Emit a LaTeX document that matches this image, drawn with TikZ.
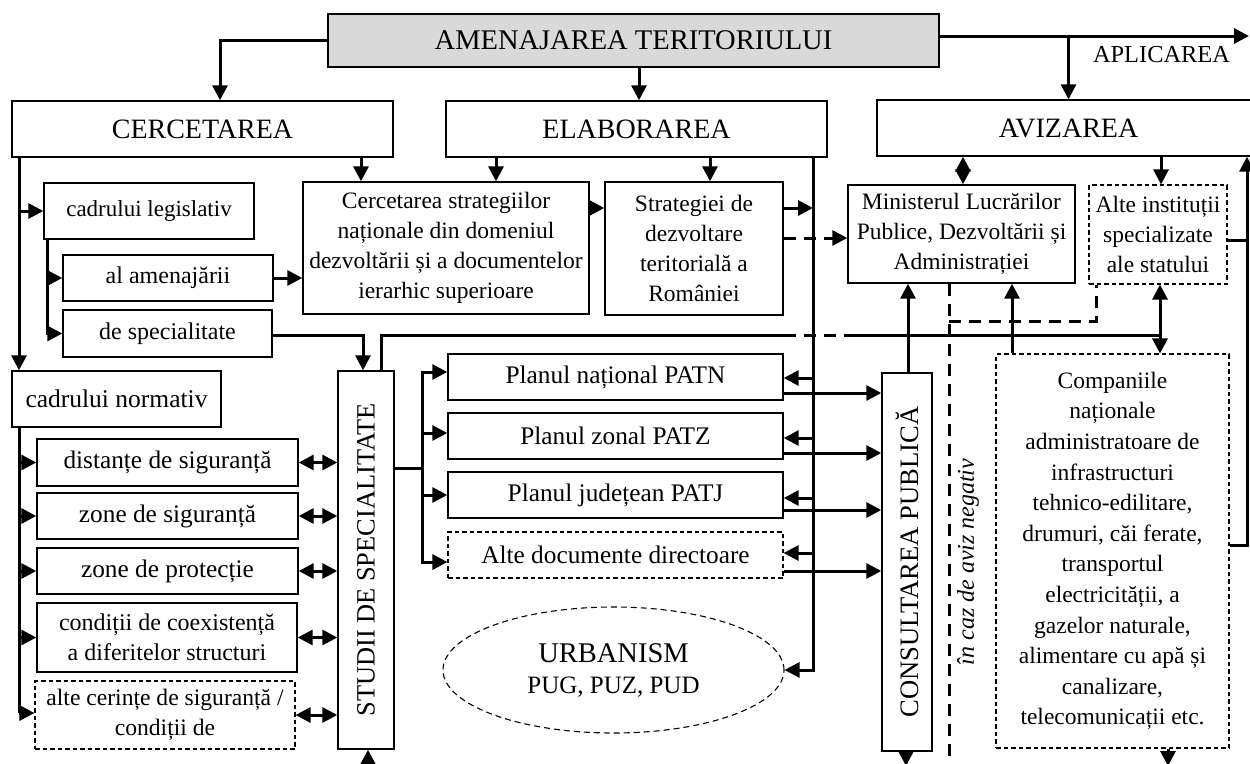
\documentclass[tikz,border=0pt]{standalone}
\usepackage{fontspec}
\setmainfont{Liberation Serif}
\usetikzlibrary{arrows.meta,shapes.geometric,calc}

\definecolor{boxgray}{RGB}{217,217,217}
\newcommand\tsz[2]{\fontsize{#1}{#2}\selectfont}

\tikzset{
  box/.style={draw, line width=1.4pt, inner sep=0pt, align=center},
  dbox/.style={box, line width=1.1pt, dash pattern=on 4.5pt off 3pt},
  conn/.style={line width=3pt},
  arr/.style={conn, ->},
  darr/.style={conn, <->},
  dashconn/.style={conn, dash pattern=on 12pt off 8pt},
  vlabel/.style={rotate=90, inner sep=0pt},
}

\begin{document}
\begin{tikzpicture}[x=1pt, y=1pt, >={Triangle[length=15pt,width=15pt]}]
\useasboundingbox (0,0) rectangle (1250,-763);
\clip (0,0) rectangle (1250,-763);

% main title and the three stages
\node[box, fill=boxgray, minimum width=611pt, minimum height=53pt, font=\tsz{28.5}{30}] (amen) at (633.5,-40.5) {AMENAJAREA TERITORIULUI};
\node[box, minimum width=381pt, minimum height=56pt, font=\tsz{28}{30}] (cerc) at (202.5,-129) {CERCETAREA};
\node[box, minimum width=381pt, minimum height=56pt, font=\tsz{28}{30}] (elab) at (636.5,-129) {ELABORAREA};
\node[box, minimum width=383pt, minimum height=56pt, font=\tsz{28}{30}] (aviz) at (1068.5,-128) {AVIZAREA};
\node[inner sep=0pt, font=\tsz{24.4}{30}] (aplic) at (1161.5,-55) {APLICAREA};

% research / elaboration boxes
\node[box, minimum width=286pt, minimum height=132pt, font=\tsz{23.5}{30}] (cs) at (446,-248)
  {Cercetarea strategiilor\\naționale din domeniul\\dezvoltării și a documentelor\\ierarhic superioare};
\node[box, minimum width=178pt, minimum height=133pt, font=\tsz{23.5}{30}] (strat) at (694,-248.5)
  {Strategiei de\\dezvoltare\\teritorială a\\României};
\node[box, minimum width=227pt, minimum height=98pt, font=\tsz{23.5}{30}] (min) at (961.5,-234)
  {Ministerul Lucrărilor\\Publice, Dezvoltării și\\Administrației};
\node[dbox, minimum width=138pt, minimum height=99pt, font=\tsz{23.5}{30}] (alti) at (1158,-234.5)
  {Alte instituții\\specializate\\ale statului};

% legislative frame
\node[box, minimum width=210pt, minimum height=56pt, font=\tsz{23}{30}] (clegis) at (149,-211) {cadrului legislativ};
\node[box, minimum width=210pt, minimum height=46pt, font=\tsz{24}{30}] (amenaj) at (168,-278) {al amenajării};
\node[box, minimum width=209pt, minimum height=47pt, font=\tsz{24}{30}] (despec) at (167.5,-333.5) {de specialitate};

% normative frame
\node[box, minimum width=209pt, minimum height=56pt, font=\tsz{25.5}{30}] (cnorm) at (116.5,-399) {cadrului normativ};
\node[box, minimum width=261pt, minimum height=47pt, font=\tsz{25.3}{30}] (dist) at (167.5,-462.5) {distanțe de siguranță};
\node[box, minimum width=261pt, minimum height=46pt, font=\tsz{25.3}{30}] (zsig) at (167.5,-516) {zone de siguranță};
\node[box, minimum width=261pt, minimum height=46pt, font=\tsz{25.3}{30}] (zprot) at (167.5,-571) {zone de protecție};
\node[box, minimum width=260pt, minimum height=69pt, font=\tsz{24}{30}] (cond) at (167,-637.5) {condiții de coexistență\\a diferitelor structuri};
\node[dbox, minimum width=260pt, minimum height=68pt, font=\tsz{23.6}{30}] (alte) at (165,-715) {alte cerințe de siguranță /\\condiții de};

% specialist studies
\node[box, minimum width=56pt, minimum height=378pt] (studii) at (366,-560) {};
\node[vlabel, font=\tsz{26.4}{30}] (studiit) at (studii.center) {STUDII DE SPECIALITATE};

% territorial plans
\node[box, minimum width=335pt, minimum height=46pt, font=\tsz{25.3}{30}] (patn) at (615.5,-377) {Planul național PATN};
\node[box, minimum width=335pt, minimum height=46pt, font=\tsz{25.3}{30}] (patz) at (615.5,-436) {Planul zonal PATZ};
\node[box, minimum width=335pt, minimum height=46pt, font=\tsz{25.3}{30}] (patj) at (615.5,-495) {Planul județean PATJ};
\node[dbox, minimum width=335pt, minimum height=46pt, font=\tsz{25.3}{30}] (altdoc) at (615.5,-555) {Alte documente directoare};
\node[draw, ellipse, line width=1.1pt, dash pattern=on 6pt off 4pt, inner sep=0pt, align=center,
      minimum width=341pt, minimum height=126pt, font=\tsz{28.5}{31}] (urb) at (613.5,-670)
  {URBANISM\\{\fontsize{25}{31}\selectfont PUG, PUZ, PUD}};

% public consultation
\node[box, minimum width=50pt, minimum height=378pt] (cons) at (907,-562) {};
\node[vlabel, font=\tsz{26.6}{30}] (const) at (cons.center) {CONSULTAREA PUBLICĂ};

% utility companies
\node[dbox, minimum width=233pt, minimum height=394pt, font=\tsz{23.5}{30.6}] (comp) at (1112.5,-551)
  {Companiile\\naționale\\administratoare de\\infrastructuri\\tehnico-edilitare,\\drumuri, căi ferate,\\transportul\\electricității, a\\gazelor naturale,\\alimentare cu apă și\\canalizare,\\telecomunicații etc.};

\node[vlabel, font=\itshape\tsz{24}{30}] (neg) at (968,-562) {în caz de aviz negativ};

% ---- connectors ----
\draw[arr] (amen.west) -| (cerc.north -| 220,0);
\draw[arr] (amen.south -| 639,0) -- (elab.north -| 639,0);
\coordinate (aplend) at (1249,-36);
\draw[arr] (amen.east |- aplend) -- (aplend);
\draw[arr] (aviz.north |- aplend) -- (aviz.north);

% research branch
\draw[arr] (cerc.south -| 361,0) -- (cs.north -| 361,0);
\draw[arr] (cerc.south -| 19,0) -- (cnorm.north -| 19,0);
\draw[arr] (19,-211) -- (clegis.west);
\draw[arr] (clegis.south -| 47,0) |- (despec.west);
\draw[arr] (47,-278) -- (amenaj.west);
\draw[arr] (amenaj.east) -- (cs.west |- amenaj.east);
\draw[arr] (despec.east |- 0,-335) -| (studii.north -| 363,0);

\draw[conn] (cnorm.south -| 19,0) -- (19,-713);
\draw[arr] (dist.west -| 19,0) -- (dist.west);
\draw[arr] (zsig.west -| 19,0) -- (zsig.west);
\draw[arr] (zprot.west -| 19,0) -- (zprot.west);
\draw[arr] (cond.west -| 19,0) -- (cond.west);
\draw[arr] (19,-713) -- (alte.west |- 0,-713);

\draw[darr] (dist.east) -- (studii.west |- dist.east);
\draw[darr] (zsig.east) -- (studii.west |- zsig.east);
\draw[darr] (zprot.east) -- (studii.west |- zprot.east);
\draw[darr] (cond.east) -- (studii.west |- cond.east);
\draw[darr] (alte.east) -- (studii.west |- alte.east);
\coordinate (studin) at (368,-768);
\draw[arr] (studin) -- (studii.south -| studin);

% studies to plans
\draw[conn] (studii.east |- 0,-468) -- (422,-468);
\draw[arr] (422,-468) |- (patn.west |- 0,-372);
\draw[arr] (422,-433) -- (patz.west |- 0,-433);
\draw[arr] (422,-495) -- (patj.west);
\draw[arr] (422,-468) |- (altdoc.west |- 0,-562);

% elaboration branch
\draw[arr] (elab.south -| 496,0) -- (cs.north -| 496,0);
\draw[arr] (elab.south -| 710,0) -- (strat.north -| 710,0);
\draw[arr] (cs.east |- 0,-208) -- (strat.west |- 0,-208);
\draw[arr] (strat.east |- 0,-208) -- (813,-208);
\draw[arr] (elab.south -| 813,0) |- (urb.east);
\draw[arr] (813,-378) -- (patn.east |- 0,-378);
\draw[arr] (813,-438) -- (patz.east |- 0,-438);
\draw[arr] (813,-498) -- (patj.east |- 0,-498);
\draw[arr] (813,-553) -- (altdoc.east |- 0,-553);
\draw[dashconn, ->] (strat.east |- 0,-238) -- (min.west |- 0,-238);

% plans to public consultation
\draw[arr] (patn.east |- 0,-393) -- (cons.west |- 0,-393);
\draw[arr] (patz.east |- 0,-453) -- (cons.west |- 0,-453);
\draw[arr] (patj.east |- 0,-510) -- (cons.west |- 0,-510);
\draw[arr] (altdoc.east |- 0,-571) -- (cons.west |- 0,-571);

% long horizontal link
\draw[conn] (studii.north -| 381,0) |- (patn.east |- 0,-335);
\draw[dashconn] (patn.east |- 0,-335) -- (min.west |- 0,-335);
\draw[conn] (min.west |- 0,-335) -- (1160,-335);

% approval branch
\draw[darr] (aviz.south -| 963,0) -- (min.north -| 963,0);
\draw[arr] (aviz.south -| 1161,0) -- (alti.north -| 1161,0);
\draw[darr] (alti.south -| 1160,0) -- (comp.north -| 1160,0);
\draw[conn] (alti.east |- 0,-240) -- (1247,-240);
\draw[arr] (comp.east |- 0,-545) -| (aviz.south -| 1247,0);
\draw[arr] (cons.north -| 908,0) -- (min.south -| 908,0);
\draw[arr] (comp.north -| 1012,0) -- (min.south -| 1012,0);
\draw[dashconn] (min.south -| 949,0) -- (949,-770);
\draw[dashconn] (949,-321) -| (alti.south -| 1096,0);
\coordinate (consout) at (906,-766);
\coordinate (compout) at (1168,-766);
\draw[arr] (cons.south -| consout) -- (consout);
\draw[arr] (comp.south -| compout) -- (compout);
\end{tikzpicture}
\end{document}
